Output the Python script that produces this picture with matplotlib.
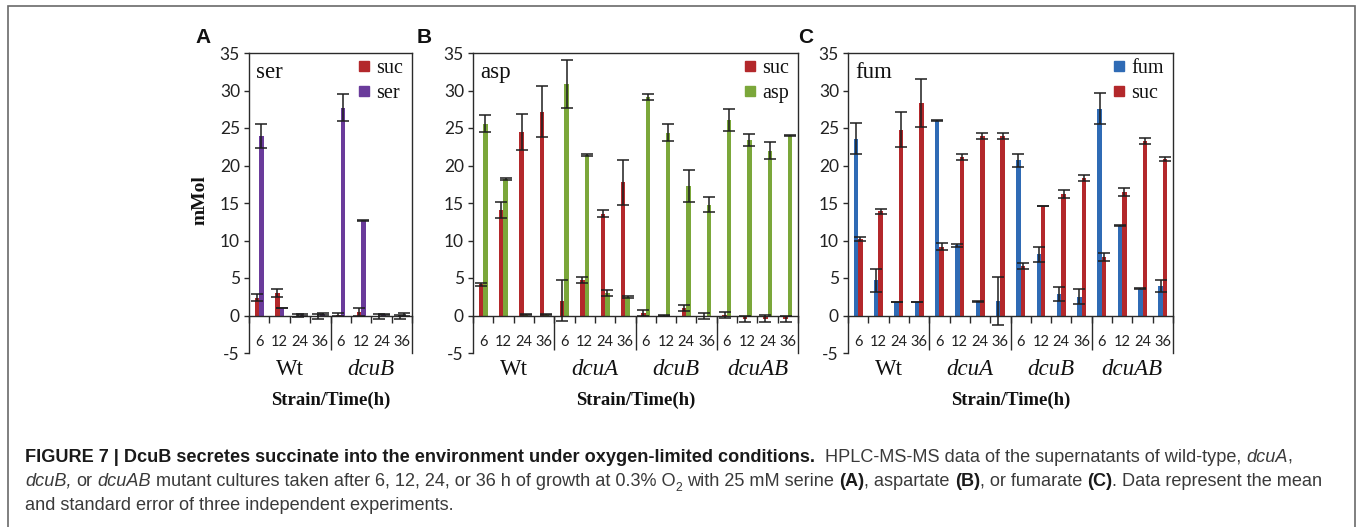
import matplotlib
matplotlib.use('Agg')
import matplotlib.pyplot as plt
import matplotlib.transforms as mtrans
from matplotlib.lines import Line2D
from matplotlib.patches import Rectangle
from matplotlib.font_manager import FontProperties
import numpy as np

plt.rcParams['axes.unicode_minus'] = False

W, H, DPI = 1357, 527, 100

# ---------------- data ----------------
times = ['6', '12', '24', '36']
strains_A = ['Wt', 'dcuB']
strains_BC = ['Wt', 'dcuA', 'dcuB', 'dcuAB']

# Panel A (serine medium): succinate and serine, mM
A_suc = [2.4, 3.0, 0.0, -0.1, 0.1, 0.5, -0.1, -0.2]
A_suc_err = [0.5, 0.5, 0.2, 0.3, 0.2, 0.5, 0.3, 0.3]
A_ser = [24.0, 1.0, 0.1, 0.2, 27.7, 12.7, 0.1, 0.1]
A_ser_err = [1.6, 0.05, 0.1, 0.1, 1.8, 0.05, 0.05, 0.2]

# Panel B (aspartate medium): succinate and aspartate, mM
B_suc = [4.2, 14.1, 24.5, 27.2, 2.0, 4.7, 13.6, 17.8,
         0.4, 0.0, 1.0, -0.1, 0.1, -0.4, -0.4, -0.4]
B_suc_err = [0.2, 1.1, 2.4, 3.4, 2.7, 0.4, 0.5, 3.0,
             0.4, 0.05, 0.4, 0.4, 0.4, 0.4, 0.5, 0.4]
B_asp = [25.6, 18.2, 0.1, 0.1, 30.9, 21.4, 3.0, 2.5,
         29.1, 24.4, 17.3, 14.8, 26.1, 23.4, 22.0, 24.0]
B_asp_err = [1.1, 0.1, 0.05, 0.05, 3.2, 0.1, 0.4, 0.1,
             0.4, 1.1, 2.1, 1.0, 1.5, 0.8, 1.1, 0.1]

# Panel C (fumarate medium): fumarate and succinate, mM
C_fum = [23.6, 4.7, 1.8, 1.8, 26.0, 9.4, 1.9, 2.0,
         20.7, 8.2, 2.9, 2.5, 27.6, 12.0, 3.6, 3.9]
C_fum_err = [2.1, 1.5, 0.05, 0.05, 0.1, 0.2, 0.1, 3.2,
             0.9, 1.0, 0.9, 1.0, 2.1, 0.1, 0.1, 0.8]
C_suc = [10.2, 13.9, 24.8, 28.4, 9.2, 21.2, 23.9, 23.9,
         6.6, 14.6, 16.2, 18.3, 7.8, 16.5, 23.3, 20.9]
C_suc_err = [0.3, 0.3, 2.4, 3.2, 0.5, 0.4, 0.4, 0.4,
             0.4, 0.05, 0.5, 0.4, 0.5, 0.5, 0.4, 0.3]

RED = '#B3282B'
PURPLE = '#6A3B9B'
GREEN = '#7BA73A'
BLUE = '#2F6BB5'
AXC = '#2a2a2a'

SERIF = 'Liberation Serif'
TICKF = 'Lato'
SANS = 'Liberation Sans'

fig = plt.figure(figsize=(W / DPI, H / DPI), dpi=DPI)
fig.patch.set_facecolor('white')


def px_axes(l, r, t, b):
    return fig.add_axes([l / W, 1 - b / H, (r - l) / W, (b - t) / H])


def panel(ax, strains, s1, e1, c1, n1, s2, e2, c2, n2, tag, axw):
    n = len(strains) * len(times)
    x = np.arange(n) + 0.5
    w = 0.22
    ax.bar(x - w / 2, s1, w, color=c1, zorder=2, linewidth=0)
    ax.bar(x + w / 2, s2, w, color=c2, zorder=2, linewidth=0)
    ekw = dict(fmt='none', ecolor='#1e1e1e', elinewidth=1.1, capsize=4.2,
               capthick=1.1, zorder=3)
    ax.errorbar(x - w / 2, s1, yerr=e1, **ekw)
    ax.errorbar(x + w / 2, s2, yerr=e2, **ekw)
    ax.set_xlim(0, n)
    ax.set_ylim(-5, 35)
    ax.set_yticks(range(-5, 36, 5))
    for sp in ax.spines.values():
        sp.set_color(AXC)
        sp.set_linewidth(1.0)
    ax.spines['bottom'].set_position(('data', 0))
    ax.set_xticks(np.arange(0, n + 1))
    ax.tick_params(axis='x', direction='out', length=5, width=1.0,
                   color=AXC, labelbottom=False)
    ax.tick_params(axis='y', direction='out', length=3.5, width=1.0,
                   color=AXC, pad=3, labelsize=12.5, labelcolor='#222222')
    for lb in ax.get_yticklabels():
        lb.set_family(TICKF)
    # strain separators
    ax.vlines(np.arange(4, n, 4), -4.6, 0, colors=AXC, linewidth=1.0, zorder=1)
    # time labels
    for i, t in enumerate(times * len(strains)):
        ax.text(x[i], -4.1, t, ha='center', va='baseline', fontsize=10.5,
                family=TICKF, color='#222222')
    trans = mtrans.blended_transform_factory(ax.transData, ax.transAxes)
    for g, s in enumerate(strains):
        ax.text(4 * g + 2, -0.073, s, transform=trans, ha='center',
                va='baseline', fontsize=16.5, family=SERIF,
                style='normal' if s == 'Wt' else 'italic', color='#111111')
    ax.text(0.5, -0.173, 'Strain/Time(h)', transform=ax.transAxes,
            ha='center', va='baseline', fontsize=13.5, family=SERIF,
            weight='bold', color='#111111')
    ax.text(7 / axw, 0.917, tag, transform=ax.transAxes, ha='left',
            va='baseline', fontsize=16.5, family=SERIF, color='#111111')
    handles = [Line2D([], [], marker='s', ls='none', color=c1, markersize=7.5),
               Line2D([], [], marker='s', ls='none', color=c2, markersize=7.5)]
    leg = ax.legend(handles, [n1, n2], loc='upper right',
                    bbox_to_anchor=(1 - 5 / axw, 1 - 2 / 300),
                    frameon=False, borderaxespad=0, borderpad=0.2,
                    handlelength=0.5, handletextpad=0.35, labelspacing=0.28,
                    prop=FontProperties(family=SERIF, size=14.5))
    for t in leg.get_texts():
        t.set_color('#111111')


axA = px_axes(249, 412, 53, 353)
panel(axA, strains_A, A_suc, A_suc_err, RED, 'suc', A_ser, A_ser_err, PURPLE,
      'ser', 'ser', 163)
axA.text(-0.30, 0.51, 'mMol', transform=axA.transAxes, rotation=90,
         ha='center', va='center', fontsize=14, family=SERIF, weight='bold',
         color='#111111')

axB = px_axes(473, 798, 53, 353)
panel(axB, strains_BC, B_suc, B_suc_err, RED, 'suc', B_asp, B_asp_err, GREEN,
      'asp', 'asp', 325)

axC = px_axes(848, 1173, 53, 353)
panel(axC, strains_BC, C_fum, C_fum_err, BLUE, 'fum', C_suc, C_suc_err, RED,
      'suc', 'fum', 325)

for lbl, xp in [('A', 195), ('B', 417), ('C', 798)]:
    fig.text(xp / W, 1 - 43 / H, lbl, ha='left', va='baseline', fontsize=15,
             family=SANS, weight='bold', color='#111111')

# caption frame
fig.patches.append(Rectangle((8 / W, -0.05), (1355 - 8) / W, 1.05 - 6 / H,
                             transform=fig.transFigure, fill=False,
                             edgecolor='#6a6a6a', linewidth=1.2))

# ---------------- caption ----------------
renderer = fig.canvas.get_renderer()


def fp(size, weight='normal', style='normal'):
    return FontProperties(family=SANS, size=size, weight=weight, style=style)


def adv(s, prop):
    w1 = renderer.get_text_width_height_descent('|' + s + '|', prop, ismath=False)[0]
    w0 = renderer.get_text_width_height_descent('||', prop, ismath=False)[0]
    return w1 - w0


N, B_, I_, S_ = ('normal', 'normal', False), ('bold', 'normal', False), \
    ('normal', 'italic', False), ('normal', 'normal', True)

line1 = [('FIGURE 7 | DcuB secretes succinate into the environment under '
          'oxygen-limited conditions.', B_),
         ('  HPLC-MS-MS data of the supernatants of wild-type, ', N),
         ('dcuA', I_), (',', N)]
line2 = [('dcuB,', I_), (' or ', N), ('dcuAB', I_),
         (' mutant cultures taken after 6, 12, 24, or 36 h of growth at 0.3% O', N),
         ('2', S_), (' with 25 mM serine ', N), ('(A)', B_), (', aspartate ', N),
         ('(B)', B_), (', or fumarate ', N), ('(C)', B_),
         ('. Data represent the mean', N)]
line3 = [('and standard error of three independent experiments.', N)]


def run_prop(size, kind):
    wt, st, sub = kind
    return fp(size * 0.68 if sub else size, wt, st)


def line_w(runs, size):
    return sum(adv(t, run_prop(size, k)) for t, k in runs)


base = 10.0
cap_size = base * (1330 - 25) / line_w(line2, base)


def draw_line(runs, x0, baseline, size):
    x = x0
    for txt, kind in runs:
        prop = run_prop(size, kind)
        lead = len(txt) - len(txt.lstrip(' '))
        core = txt.strip(' ')
        xs = x + (adv(' ' * lead, prop) if lead else 0)
        y = baseline + (0.3 * size * DPI / 72 if kind[2] else 0)
        col = '#1a1a1a' if kind[0] == 'bold' else '#3a3a3a'
        if core:
            fig.text(xs / W, 1 - y / H, core, fontproperties=prop, color=col,
                     ha='left', va='baseline')
        x += adv(txt, prop)


draw_line(line1, 25, 462, cap_size)
draw_line(line2, 25, 486, cap_size)
draw_line(line3, 25, 510, cap_size)

fig.savefig('out.png', dpi=DPI, facecolor='white')
